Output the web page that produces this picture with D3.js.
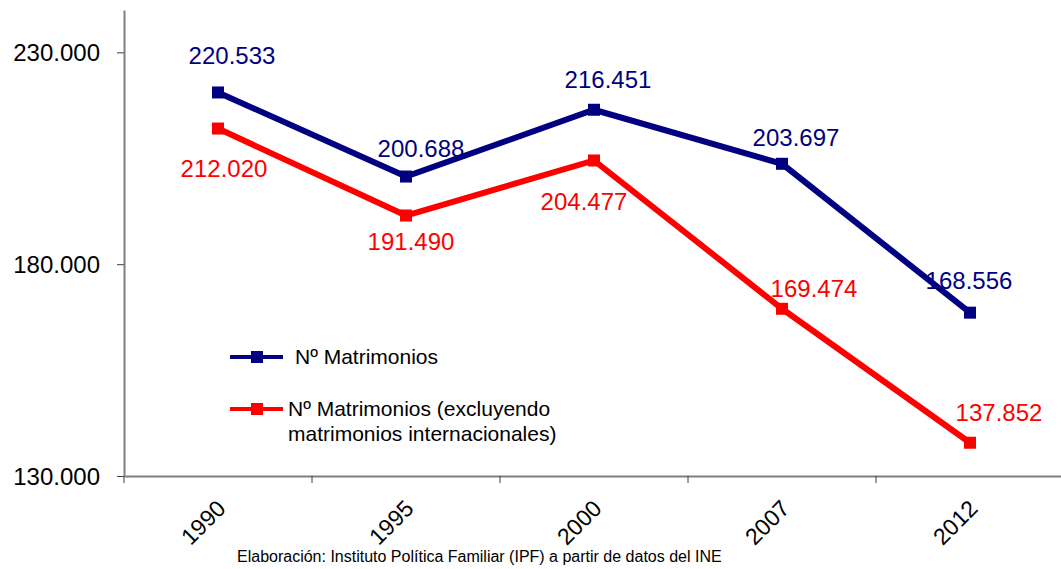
<!DOCTYPE html>
<html>
<head>
<meta charset="utf-8">
<script src="https://cdn.jsdelivr.net/npm/d3@7"></script>
<style>
  body { margin: 0; background: #fff; }
  svg { display: block; font-family: "Liberation Sans", Arial, sans-serif; }
</style>
</head>
<body>
<div id="chart"></div>
<script>
// chart data
var years = ["1990", "1995", "2000", "2007", "2012"];
var totalMarriages = [220533, 200688, 216451, 203697, 168556];
var domesticMarriages = [212020, 191490, 204477, 169474, 137852];
var yTicks = [130000, 180000, 230000];
var seriesNames = ["Nº Matrimonios", "Nº Matrimonios (excluyendo|matrimonios internacionales)"];

// label offsets from each point (dx, dy to text centre)
var totalLabelOffsets = [[14, -37], [15, -28], [14, -30], [14, -26], [-1, -32]];
var domesticLabelOffsets = [[6, 40], [5, 26], [-10, 41], [32, -20], [29, -30]];

var svgWidth = 1061;
var svgHeight = 569;

var svg = d3.select("#chart")
  .append("svg")
  .attr("width", svgWidth)
  .attr("height", svgHeight);

var xScale = d3.scaleBand()
  .domain(years)
  .range([124, 1064]);

var yScale = d3.scaleLinear()
  .domain([130000, 240000])
  .range([476, 10]);

var fmt = function(v) { return d3.format(",")(v).replace(/,/g, "."); };
var xPos = function(d, i) { return xScale(years[i]) + xScale.bandwidth() / 2; };

// y axis
var leftAxis = d3.axisLeft(yScale)
  .tickValues(yTicks)
  .tickSize(7)
  .tickSizeOuter(0)
  .tickPadding(17)
  .tickFormat(fmt);

var yAxis = svg.append("g")
  .attr("transform", "translate(124, 0)")
  .call(leftAxis);
yAxis.select(".domain").attr("stroke", "#808080").attr("stroke-width", 2);
yAxis.selectAll(".tick line").attr("stroke", "#404040");
yAxis.selectAll(".tick text")
  .attr("fill", "#000")
  .style("font-size", "24px")
  .attr("dy", "0.35em");

// x axis
var bottomAxis = d3.axisBottom(xScale)
  .tickSize(0)
  .tickSizeOuter(0)
  .tickFormat("");

var xAxis = svg.append("g")
  .attr("transform", "translate(0, 476)")
  .call(bottomAxis);
xAxis.select(".domain").attr("stroke", "#808080").attr("stroke-width", 2);

// x tick marks at band edges
svg.selectAll(".band-tick")
  .data(years.concat(["end"]))
  .enter()
  .append("line")
  .attr("x1", (d, i) => xScale.range()[0] + i * xScale.step())
  .attr("x2", (d, i) => xScale.range()[0] + i * xScale.step())
  .attr("y1", 476)
  .attr("y2", 483)
  .attr("stroke", "#404040");

// x labels rotated
svg.selectAll(".year-label")
  .data(years)
  .enter()
  .append("text")
  .attr("transform", (d, i) => `translate(${xPos(d, i) + 9}, ${510}) rotate(-45)`)
  .style("text-anchor", "end")
  .style("font-size", "23px")
  .attr("fill", "#000")
  .text(d => d);

// series lines and markers
var series = [
  { values: totalMarriages, color: "#000080", offsets: totalLabelOffsets },
  { values: domesticMarriages, color: "#ff0000", offsets: domesticLabelOffsets }
];

var line = d3.line()
  .x((d, i) => xPos(d, i))
  .y(d => yScale(d));

series.forEach(function(s) {
  svg.append("path")
    .datum(s.values)
    .attr("fill", "none")
    .attr("stroke", s.color)
    .attr("stroke-width", 6)
    .attr("d", line);

  svg.selectAll(null)
    .data(s.values)
    .enter()
    .append("rect")
    .attr("x", (d, i) => xPos(d, i) - 6)
    .attr("y", d => yScale(d) - 6)
    .attr("width", 12)
    .attr("height", 12)
    .attr("fill", s.color);

  svg.selectAll(null)
    .data(s.values)
    .enter()
    .append("text")
    .attr("x", (d, i) => xPos(d, i) + s.offsets[i][0])
    .attr("y", (d, i) => yScale(d) + s.offsets[i][1])
    .attr("dy", "0.35em")
    .style("text-anchor", "middle")
    .style("font-size", "24px")
    .attr("fill", s.color)
    .text(d => fmt(d));
});

// legend
var legend = svg.append("g");
seriesNames.forEach(function(name, k) {
  var y = k === 0 ? 357 : 409;
  var color = series[k].color;
  legend.append("line")
    .attr("x1", 230).attr("x2", 283)
    .attr("y1", y).attr("y2", y)
    .attr("stroke", color)
    .attr("stroke-width", 4);
  legend.append("rect")
    .attr("x", 251).attr("y", y - 6)
    .attr("width", 12).attr("height", 12)
    .attr("fill", color);
  var txt = legend.append("text")
    .attr("x", k === 0 ? 295 : 288)
    .attr("y", y)
    .style("font-size", "21px")
    .attr("fill", "#000");
  name.split("|").forEach(function(part, j) {
    txt.append("tspan")
      .attr("x", k === 0 ? 295 : 288)
      .attr("dy", j === 0 ? "0.35em" : "1.15em")
      .text(part);
  });
});

// source note
svg.append("text")
  .attr("x", 237)
  .attr("y", 562)
  .style("font-size", "16px")
  .attr("fill", "#000")
  .text("Elaboración: Instituto Política Familiar (IPF) a partir de datos del INE");
</script>
</body>
</html>
